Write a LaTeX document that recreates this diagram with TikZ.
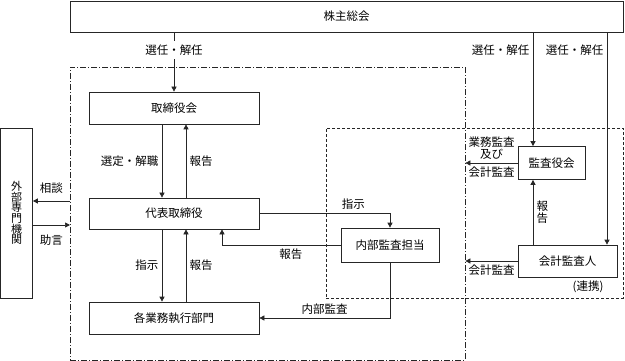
\documentclass[tikz,border=0pt]{standalone}
\usepackage{fontspec}
\setmainfont{Noto Sans CJK JP}
\usetikzlibrary{arrows.meta}

\begin{document}
\begin{tikzpicture}[x=1pt,y=-1pt,line width=0.7pt,>={Triangle[length=5pt,width=5pt]},
  font=\fontsize{11.5}{11.5}\selectfont,
  box/.style={draw=black!85,inner sep=0pt},
  ddbox/.style={draw=black!85,dash pattern=on 6pt off 2pt on 1pt off 2pt},
  dbox/.style={draw=black!85,dash pattern=on 3pt off 2pt},
  conn/.style={draw=black!85,->}]
  \useasboundingbox (0,0) rectangle (625,361);
  % marcos
  \node[ddbox,minimum width=395,minimum height=293] (shikko) at (267.5,213.5) {};
  \node[dbox,minimum width=297,minimum height=170] (kansabu) at (474.5,213) {};
  % cajas
  \node[box,minimum width=553,minimum height=31] (kabu) at (346.5,16.5) {株主総会};
  \node[box,minimum width=170,minimum height=32] (tori) at (174,108) {取締役会};
  \node[box,minimum width=170,minimum height=31] (rep) at (174,213.5) {代表取締役};
  \node[box,minimum width=170,minimum height=32] (kaku) at (174,318) {各業務執行部門};
  \node[box,minimum width=32,minimum height=170,align=center,
        font=\fontsize{11}{10.6}\selectfont] (gai) at (16.5,213) {外\\部\\専\\門\\機\\関};
  \node[box,minimum width=98,minimum height=34] (naibu) at (390,245) {内部監査担当};
  \node[box,minimum width=67,minimum height=33] (kansa) at (551.5,163) {監査役会};
  \node[box,minimum width=99,minimum height=32] (kaikei) at (567.5,261) {会計監査人};
  \node (renkei) at (588,287) {(連携)};
  % eleccion
  \coordinate (c1) at (533,0);
  \coordinate (c2) at (607,0);
  \draw[conn] (kabu.south -| tori.north) -- node[pos=0.3,fill=white,inner sep=4pt] (l1) {選任・解任} (tori.north);
  \draw[conn] (kabu.south -| c1) -- node[pos=0.157,left] (l2) {選任・解任} (kansa.north -| c1);
  \draw[conn] (kabu.south -| c2) -- node[pos=0.085,left] (l3) {選任・解任} (kaikei.north -| c2);
  % flechas verticales
  \draw[conn] ([xshift=-12]tori.south) -- node[left] (l4) {選定・解職} ([xshift=-12]rep.north);
  \draw[conn] ([xshift=12]rep.north) -- node[right] (l5) {報告} ([xshift=12]tori.south);
  \draw[conn] ([xshift=-12]rep.south) -- node[left] (l6) {指示} ([xshift=-12]kaku.north);
  \draw[conn] ([xshift=12]kaku.north) -- node[right] (l7) {報告} ([xshift=12]rep.south);
  % externo
  \coordinate (p1) at (70,201);
  \coordinate (p2) at (70,225);
  \draw[conn] (p1) -- node[above=4pt] (l8) {相談} (gai.east |- p1);
  \draw[conn] (gai.east |- p2) -- node[below=6pt] (l9) {助言} (p2);
  % auditoria interna
  \draw[conn] (rep.east) -| node[pos=0.36,above] (l10) {指示} (naibu.north);
  \draw[conn] (naibu.west) -| node[pos=0.21,below] (l11) {報告} ([xshift=48]rep.south);
  \draw[conn] (naibu.south) |- node[pos=0.75,above] (l12) {内部監査} (kaku.east);
  % auditores
  \draw[conn] (kansa.west) -- node[above,align=center] (l13) {業務監査\\及び}
    node[below] (l14) {会計監査} (kansa.west -| shikko.east);
  \draw[conn] (kaikei.north -| c1) -- node[right,align=center] (l15) {報\\告} (kansa.south -| c1);
  \draw[conn] (kaikei.west) -- node[below] (l16) {会計監査} (kaikei.west -| shikko.east);
\end{tikzpicture}
\end{document}
